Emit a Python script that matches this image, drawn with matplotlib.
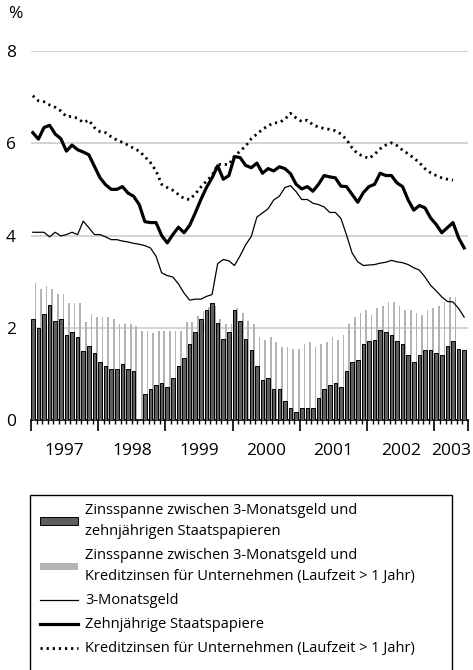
import numpy as np
import matplotlib
matplotlib.use("Agg")
import matplotlib.pyplot as plt
from matplotlib.patches import Patch, Rectangle
from matplotlib.lines import Line2D
from matplotlib.transforms import blended_transform_factory

plt.rcParams['font.family'] = ['Open Sans', 'DejaVu Sans']

# monthly data, Jan 1997 .. Jun 2003
years = ["1997", "1998", "1999", "2000", "2001", "2002", "2003"]
n_months = 78

# spread 3M money vs 10y government bonds (dark bars)
spread_bund = [2.20, 2.00, 2.30, 2.50, 2.15, 2.20, 1.85, 1.91, 1.80, 1.50, 1.60, 1.46,
               1.25, 1.16, 1.11, 1.11, 1.21, 1.11, 1.06, np.nan, 0.57, 0.67, 0.76, 0.81,
               0.71, 0.92, 1.16, 1.35, 1.64, 1.90, 2.20, 2.39, 2.54, 2.10, 1.75, 1.90,
               2.39, 2.14, 1.75, 1.51, 1.16, 0.86, 0.91, 0.67, 0.67, 0.41, 0.27, 0.17,
               0.27, 0.27, 0.27, 0.47, 0.67, 0.76, 0.80, 0.71, 1.07, 1.26, 1.30, 1.65,
               1.71, 1.74, 1.96, 1.90, 1.85, 1.71, 1.65, 1.41, 1.26, 1.41, 1.51, 1.51,
               1.46, 1.41, 1.60, 1.71, 1.55, 1.51]

# spread 3M money vs corporate lending rates (light bars)
spread_credit = [2.97, 2.83, 2.90, 2.83, 2.74, 2.74, 2.54, 2.54, 2.54, 2.12, 2.29, 2.24,
                 2.24, 2.24, 2.20, 2.09, 2.09, 2.09, 2.04, 1.93, 1.93, 1.88, 1.93, 1.93,
                 1.93, 1.93, 1.93, 2.12, 2.12, 2.25, 2.37, 2.45, 2.48, 2.20, 2.08, 2.08,
                 2.43, 2.33, 2.14, 2.09, 1.79, 1.74, 1.79, 1.70, 1.59, 1.59, 1.54, 1.54,
                 1.65, 1.70, 1.59, 1.65, 1.70, 1.79, 1.74, 1.85, 2.09, 2.23, 2.32, 2.39,
                 2.28, 2.43, 2.48, 2.55, 2.55, 2.48, 2.39, 2.39, 2.33, 2.28, 2.39, 2.43,
                 2.48, 2.55, 2.67, 2.67, np.nan, np.nan]

money_3m = [4.07, 4.07, 4.07, 3.97, 4.07, 3.99, 4.02, 4.07, 4.02, 4.31, 4.17, 4.02,
            4.02, 3.97, 3.91, 3.91, 3.88, 3.86, 3.83, 3.81, 3.78, 3.73, 3.55, 3.19,
            3.13, 3.10, 2.95, 2.75, 2.60, 2.62, 2.62, 2.68, 2.72, 3.39, 3.48, 3.45,
            3.35, 3.56, 3.80, 3.98, 4.40, 4.49, 4.58, 4.77, 4.85, 5.04, 5.08, 4.95,
            4.78, 4.78, 4.70, 4.67, 4.62, 4.50, 4.50, 4.37, 4.01, 3.62, 3.43, 3.35,
            3.36, 3.37, 3.40, 3.42, 3.46, 3.43, 3.41, 3.37, 3.30, 3.25, 3.10, 2.92,
            2.80, 2.67, 2.57, 2.56, 2.42, 2.23]

bund_10y = [6.23, 6.09, 6.34, 6.39, 6.20, 6.10, 5.83, 5.96, 5.86, 5.81, 5.75, 5.50,
            5.25, 5.10, 5.00, 5.00, 5.06, 4.92, 4.85, 4.67, 4.30, 4.28, 4.28, 4.00,
            3.84, 4.02, 4.18, 4.06, 4.22, 4.49, 4.78, 5.04, 5.25, 5.51, 5.22, 5.30,
            5.71, 5.69, 5.52, 5.47, 5.57, 5.35, 5.45, 5.40, 5.49, 5.45, 5.34, 5.11,
            5.01, 5.06, 4.96, 5.11, 5.30, 5.27, 5.25, 5.07, 5.06, 4.89, 4.72, 4.93,
            5.06, 5.11, 5.35, 5.30, 5.30, 5.14, 5.06, 4.77, 4.55, 4.65, 4.60, 4.38,
            4.24, 4.06, 4.17, 4.28, 3.95, 3.73]

credit_rate = [7.03, 6.92, 6.90, 6.83, 6.78, 6.70, 6.58, 6.58, 6.54, 6.45, 6.50, 6.34,
               6.25, 6.23, 6.14, 6.07, 6.02, 5.96, 5.89, 5.83, 5.71, 5.58, 5.40, 5.11,
               5.04, 4.98, 4.89, 4.80, 4.78, 4.90, 5.05, 5.18, 5.30, 5.54, 5.54, 5.54,
               5.72, 5.83, 5.94, 6.10, 6.20, 6.30, 6.38, 6.44, 6.45, 6.52, 6.65, 6.55,
               6.47, 6.50, 6.40, 6.35, 6.32, 6.30, 6.27, 6.20, 6.08, 5.90, 5.77, 5.72,
               5.67, 5.76, 5.88, 5.96, 6.01, 5.95, 5.85, 5.77, 5.68, 5.58, 5.45, 5.36,
               5.30, 5.25, 5.22, 5.20]

labels = [
    "Zinsspanne zwischen 3-Monatsgeld und\nzehnjährigen Staatspapieren",
    "Zinsspanne zwischen 3-Monatsgeld und\nKreditzinsen für Unternehmen (Laufzeit > 1 Jahr)",
    "3-Monatsgeld",
    "Zehnjährige Staatspapiere",
    "Kreditzinsen für Unternehmen (Laufzeit > 1 Jahr)",
]

W, H = 473, 670
fig = plt.figure(figsize=(W / 100, H / 100), dpi=100)
ax = fig.add_axes([31 / W, (H - 420) / H, 437 / W, 369 / H])

x = np.arange(n_months)
dark_w = 0.64
ax.bar(x, spread_bund, width=dark_w, align='edge', color='#5e5e5e',
       edgecolor='black', linewidth=0.7, zorder=3)
ax.bar(x + dark_w, spread_credit, width=0.3, align='edge', color='#b3b3b3',
       linewidth=0, zorder=2)

xl = x + dark_w / 2
ax.plot(xl, money_3m, color='black', lw=0.9, zorder=4)
ax.plot(xl, bund_10y, color='black', lw=2.3, zorder=4, solid_joinstyle='round')
ax.plot(xl[:len(credit_rate)], credit_rate, color='black', lw=2.0,
        linestyle=(0, (0.8, 1.4)), zorder=4)

ax.set_xlim(0, n_months)
ax.set_ylim(0, 8)
for s in ['left', 'top', 'right']:
    ax.spines[s].set_visible(False)
ax.spines['bottom'].set_linewidth(1.2)

ax.set_yticks([0, 2, 4, 6, 8])
ax.set_yticklabels(['0', '2', '4', '6', '8'], fontsize=12.5)
ax.tick_params(axis='y', length=0, pad=11)
for yv in [2, 4, 6, 8]:
    ax.axhline(yv, color='#cccccc', lw=1.2, zorder=1)

ax.set_xticks(list(range(0, n_months, 12)) + [n_months])
ax.set_xticklabels([])
ax.set_xticks(x, minor=True)
ax.tick_params(axis='x', which='major', length=8, width=1.2, direction='out')
ax.tick_params(axis='x', which='minor', length=3, width=1.0, direction='out')

trans = blended_transform_factory(ax.transData, ax.transAxes)
for k, yr in enumerate(years):
    start = 12 * k
    end = min(start + 12, n_months)
    ax.text((start + end) / 2, -0.083, yr, transform=trans, ha='center',
            va='center', fontsize=12.5)

fig.text(15 / W, 1 - 14 / H, '%', ha='center', va='center', fontsize=12.5)

handles = [
    Patch(facecolor='#5e5e5e', edgecolor='black', linewidth=0.7),
    Patch(facecolor='#b3b3b3', edgecolor='none'),
    Line2D([], [], color='black', lw=0.9),
    Line2D([], [], color='black', lw=2.3),
    Line2D([], [], color='black', lw=2.0, linestyle=(0, (0.8, 1.4))),
]
leg = fig.legend(handles, labels, loc='upper left',
                 bbox_to_anchor=(40 / W, 1 - 503 / H), frameon=False,
                 fontsize=10.5, handlelength=2.6, handleheight=0.45,
                 handletextpad=0.5, labelspacing=0.62, borderpad=0,
                 borderaxespad=0)
for t in leg.get_texts():
    t.set_linespacing(1.55)

fig.patches.append(Rectangle((30 / W, -0.05), 422 / W, 0.05 + (H - 495) / H,
                             transform=fig.transFigure, fill=False,
                             edgecolor='black', lw=1.0))

fig.savefig('out.png', dpi=100)
